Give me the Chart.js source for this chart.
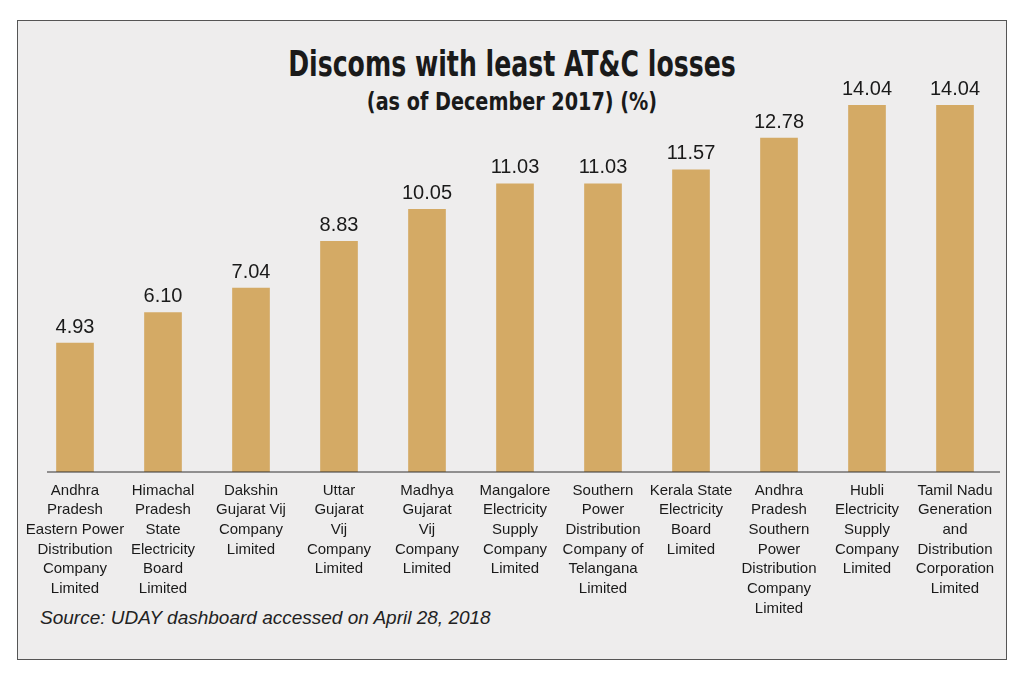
<!DOCTYPE html>
<html lang="en">
<head>
<meta charset="UTF-8">
<title>Discoms with least AT&amp;C losses</title>
<script src="https://cdn.jsdelivr.net/npm/chart.js@4.4.0/dist/chart.umd.min.js"></script>
<style>
    html, body { margin: 0; padding: 0; background: #fff; }
    #frame {
        position: absolute; left: 17px; top: 20px; width: 988px; height: 638px;
        border: 1.5px solid #555; background: #eeeded;
    }
    #title {
        position: absolute; left: 0; width: 1024px; top: 44px; text-align: center;
        font-family: 'DejaVu Sans Condensed', 'DejaVu Sans', sans-serif;
        font-weight: bold; font-size: 35px; color: #1a1a1a; transform: scaleX(0.8);
    }
    #subtitle {
        position: absolute; left: 0; width: 1024px; top: 88px; text-align: center;
        font-family: 'DejaVu Sans Condensed', 'DejaVu Sans', sans-serif;
        font-weight: bold; font-size: 24px; color: #1a1a1a; transform: scaleX(0.89);
    }
    #source {
        position: absolute; left: 40px; top: 607px;
        font-family: 'Liberation Sans', sans-serif; font-style: italic; font-size: 19px; color: #222;
    }
    canvas { position: absolute; left: 0; top: 0; }
</style>
</head>
<body>
<div id="frame"></div>
<div id="title">Discoms with least AT&amp;C losses</div>
<div id="subtitle">(as of December 2017) (%)</div>
<div id="source">Source: UDAY dashboard accessed on April 28, 2018</div>
<canvas id="chart" width="1024" height="687"></canvas>
<script>
    const categories = [
        ['Andhra', 'Pradesh', 'Eastern Power', 'Distribution', 'Company', 'Limited'],
        ['Himachal', 'Pradesh', 'State', 'Electricity', 'Board', 'Limited'],
        ['Dakshin', 'Gujarat Vij', 'Company', 'Limited'],
        ['Uttar', 'Gujarat', 'Vij', 'Company', 'Limited'],
        ['Madhya', 'Gujarat', 'Vij', 'Company', 'Limited'],
        ['Mangalore', 'Electricity', 'Supply', 'Company', 'Limited'],
        ['Southern', 'Power', 'Distribution', 'Company of', 'Telangana', 'Limited'],
        ['Kerala State', 'Electricity', 'Board', 'Limited'],
        ['Andhra', 'Pradesh', 'Southern', 'Power', 'Distribution', 'Company', 'Limited'],
        ['Hubli', 'Electricity', 'Supply', 'Company', 'Limited'],
        ['Tamil Nadu', 'Generation', 'and', 'Distribution', 'Corporation', 'Limited']
    ];
    const losses = [4.93, 6.10, 7.04, 8.83, 10.05, 11.03, 11.03, 11.57, 12.78, 14.04, 14.04];
    const valueLabels = ['4.93', '6.10', '7.04', '8.83', '10.05', '11.03', '11.03', '11.57', '12.78', '14.04', '14.04'];

    const decorations = {
        id: 'decorations',
        afterDatasetsDraw(chart) {
            const ctx = chart.ctx;
            const x = chart.scales.x, y = chart.scales.y;
            const base = y.getPixelForValue(0);
            ctx.save();
            ctx.strokeStyle = '#333';
            ctx.lineWidth = 1.2;
            ctx.beginPath();
            ctx.moveTo(47, base);
            ctx.lineTo(1000, base);
            ctx.stroke();
            ctx.fillStyle = '#1a1a1a';
            ctx.textAlign = 'center';
            ctx.textBaseline = 'bottom';
            ctx.font = '20px "Liberation Sans", sans-serif';
            losses.forEach((v, i) => {
                ctx.fillText(valueLabels[i], x.getPixelForValue(i), y.getPixelForValue(v) - 6);
            });
            ctx.textBaseline = 'top';
            ctx.font = '15px "Liberation Sans", sans-serif';
            categories.forEach((lines, i) => {
                lines.forEach((l, j) => {
                    ctx.fillText(l, x.getPixelForValue(i), base + 11 + j * 19.7);
                });
            });
            ctx.restore();
        }
    };

    new Chart(document.getElementById('chart'), {
        type: 'bar',
        data: {
            labels: categories.map(c => c.join(' ')),
            datasets: [{
                data: losses,
                backgroundColor: '#d4aa65',
                barThickness: 37
            }]
        },
        options: {
            responsive: false,
            animation: false,
            layout: { padding: { left: 31, right: 25, top: 54, bottom: 215 } },
            plugins: { legend: { display: false }, tooltip: { enabled: false } },
            scales: {
                x: { display: false },
                y: { display: false, min: 0, max: 16 }
            }
        },
        plugins: [decorations]
    });
</script>
</body>
</html>
